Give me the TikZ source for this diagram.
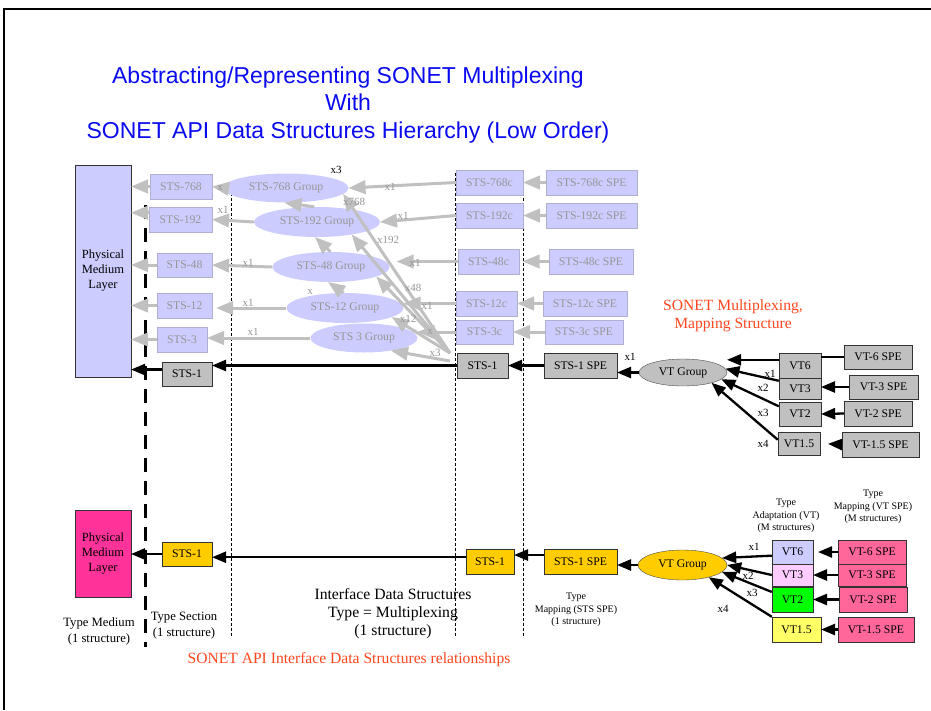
\documentclass[tikz,border=0pt]{standalone}
\usepackage{fontspec}
\setmainfont{Liberation Serif}
\newfontfamily\headfont{Liberation Sans}
\usetikzlibrary{arrows}
\usetikzlibrary{shapes.geometric}
\definecolor{lav}{RGB}{204,204,255}
\definecolor{lavline}{RGB}{175,175,210}
\definecolor{fade}{RGB}{150,150,150}
\definecolor{ghost}{RGB}{192,192,192}
\definecolor{silver}{RGB}{192,192,192}
\definecolor{heading}{RGB}{10,10,240}
\definecolor{note}{RGB}{255,70,30}
\definecolor{gold}{RGB}{255,204,0}
\definecolor{hotpink}{RGB}{255,51,153}
\definecolor{spepink}{RGB}{255,102,153}
\definecolor{vtpink}{RGB}{255,204,255}
\definecolor{vtgreen}{RGB}{0,255,0}
\definecolor{vtyellow}{RGB}{255,255,102}

\begin{document}
\begin{tikzpicture}[x=1pt, y=-1pt,
  stsbox/.style={shape=rectangle, draw=black!80, inner sep=1pt, minimum height=25pt, font=\fontsize{11.7}{14}\selectfont},
  faded/.style={stsbox, draw=lavline, fill=lav, text=fade},
  solidbox/.style={stsbox, fill=silver},
  grp/.style={shape=ellipse, fill=lav, text=fade, inner sep=0pt, minimum height=30pt, font=\fontsize{11.7}{14}\selectfont},
  ghostarrow/.style={->, >=triangle 45, line width=3pt, ghost},
  solidarrow/.style={->, >=triangle 45, line width=2.3pt, black},
  mult/.style={font=\fontsize{11}{13}\selectfont, inner sep=0pt},
  fademult/.style={mult, text=fade},
  remark/.style={align=center, inner sep=0pt, font=\fontsize{12.7}{16}\selectfont},
  small/.style={align=center, inner sep=0pt, font=\fontsize{10}{12.5}\selectfont},
  divider/.style={line width=0.8pt, dash pattern=on 3pt off 2pt}]
  \useasboundingbox (0,0) rectangle (931,710);
  \draw [line width=2pt] (4,710) -- (4,9) -- (931,9);

  \node (title) at (348,105) [align=center, text=heading, font=\headfont\fontsize{23}{27.5}\selectfont] {Abstracting/Representing SONET Multiplexing\\With\\SONET API Data Structures Hierarchy (Low Order)};

  \draw [line width=3pt, dash pattern=on 14pt off 9pt] (145,205) -- (145,647);
  \draw [divider] (231,193) -- (231,637);
  \draw [divider] (455,173) -- (455,637);
  \draw [divider] (523,173) -- (523,637);

  \node (phys) at (103,271) [stsbox, fill=lav, minimum width=56pt, minimum height=212pt, align=center, font=\fontsize{12.5}{15}\selectfont] {Physical\\Medium\\Layer};
  \node (sts768) at (181,186.5) [faded, minimum width=62pt] {STS-768};
  \node (sts192) at (180.5,219.5) [faded, minimum width=63pt] {STS-192};
  \node (sts48) at (184.5,265) [faded, minimum width=55pt, minimum height=24pt] {STS-48};
  \node (sts12) at (184.5,305.5) [faded, minimum width=55pt] {STS-12};
  \node (sts3) at (182,339.5) [faded, minimum width=50pt] {STS-3};
  \node (stsone) at (187,374) [solidbox, minimum width=50pt, minimum height=24pt] {STS-1};

  \node (g768) at (286,188) [grp, minimum width=125pt, minimum height=29pt] {STS-768 Group};
  \node (g192) at (317,222) [grp, minimum width=126pt] {STS-192 Group};
  \node (g48) at (331,267) [grp, minimum width=117pt] {STS-48 Group};
  \node (g12) at (345,308) [grp, minimum width=117pt] {STS-12 Group};
  \node (g3) at (364,338) [grp, minimum width=107pt, minimum height=29pt] {STS 3 Group};

  \node (c768) at (489.5,182.5) [faded, minimum width=67pt] {STS-768c};
  \node (c192) at (489.5,215.5) [faded, minimum width=67pt] {STS-192c};
  \node (c48) at (488.5,261.5) [faded, minimum width=61pt] {STS-48c};
  \node (c12) at (486.5,303.5) [faded, minimum width=61pt] {STS-12c};
  \node (c3) at (484.5,332) [faded, minimum width=57pt, minimum height=24pt] {STS-3c};
  \node (conec) at (482.5,365.5) [solidbox, minimum width=51pt] {STS-1};

  \node (s768) at (591.5,182.5) [faded, minimum width=91pt] {STS-768c SPE};
  \node (s192) at (591.5,215.5) [faded, minimum width=91pt] {STS-192c SPE};
  \node (s48) at (591,261.5) [faded, minimum width=84pt] {STS-48c SPE};
  \node (s12) at (585,303.5) [faded, minimum width=84pt] {STS-12c SPE};
  \node (s3) at (584,332) [faded, minimum width=78pt, minimum height=24pt] {STS-3c SPE};
  \node (sone) at (580.5,365.5) [solidbox, minimum width=73pt] {STS-1 SPE};

  \node (vtg) at (683,372.5) [grp, fill=silver, text=black, draw=black!70, minimum width=88pt, minimum height=27pt] {VT Group};
  \node (vtsix) at (800,365.5) [solidbox, minimum width=42pt] {VT6};
  \node (vtthree) at (800,388.5) [solidbox, minimum width=42pt, minimum height=21pt] {VT3};
  \node (vttwo) at (800,414) [solidbox, minimum width=42pt, minimum height=24pt] {VT2};
  \node (vtonefive) at (799,443.5) [solidbox, minimum width=42pt, minimum height=23pt] {VT1.5};
  \node (vsix) at (878,357) [solidbox, minimum width=68pt, minimum height=24pt] {VT-6 SPE};
  \node (vthree) at (883.5,387) [solidbox, minimum width=69pt, minimum height=24pt] {VT-3 SPE};
  \node (vtwo) at (878,413.5) [solidbox, minimum width=68pt] {VT-2 SPE};
  \node (vonefive) at (880.5,444.5) [solidbox, minimum width=77pt] {VT-1.5 SPE};

  \draw [ghostarrow] (sts768.west) -- (sts768.west -| phys.east);
  \draw [ghostarrow] (sts192.168) -- (sts192.168 -| phys.east);
  \draw [ghostarrow] (sts48.west) -- (sts48.west -| phys.east);
  \draw [ghostarrow] (sts12.west) -- (sts12.west -| phys.east);
  \draw [ghostarrow] (sts3.west) -- (sts3.west -| phys.east);
  \draw [solidarrow] (stsone.170) -- (stsone.170 -| phys.east);

  \draw [ghostarrow] (g768.west) -- (sts768.east);
  \draw [ghostarrow] (g192.west) -- (sts192.east);
  \draw [ghostarrow] (g48.west) -- (sts48.east);
  \draw [ghostarrow] (g12.west) -- ++(-70,0);
  \draw [ghostarrow] (g3.west) -- (g3.west -| sts3.east);

  \draw [ghostarrow] (c768.west) -- (g768.east);
  \draw [ghostarrow] (c192.west) -- (g192.east);
  \draw [ghostarrow] (c48.west) -- ++(-61,0);
  \draw [ghostarrow] (c12.west) -- (c12.west -| g12.east);
  \draw [ghostarrow] (c3.west) -- (c3.west -| g3.east);

  \draw [ghostarrow] (s768.west) -- (c768.east);
  \draw [ghostarrow] (s192.west) -- (c192.east);
  \draw [ghostarrow] (s48.west) -- ++(-26,0);
  \draw [ghostarrow] (s12.west) -- (c12.east);
  \draw [ghostarrow] (s3.west) -- (c3.east);

  \draw [ghostarrow] (g192.100) -- (g768.-95);
  \draw [ghostarrow] (g48.92) -- (g192.-97);
  \draw [ghostarrow] (g12.95) -- (g48.-100);

  \coordinate (fan) at (450,353);
  \coordinate (fanlow) at (450,361);
  \draw [ghostarrow] (fan) -- (g768.-6);
  \draw [ghostarrow] (fan) -- (g192.-20);
  \draw [ghostarrow] (fan) -- (g48.-12);
  \draw [ghostarrow] (fan) -- (g12.-11);
  \draw [ghostarrow] (fanlow) -- (g3.-25);

  \draw [solidarrow] (conec.west) -- (conec.west -| stsone.east);
  \draw [solidarrow] (sone.west) -- (conec.east);
  \draw [solidarrow] (vtg.west) -- (vtg.west -| sone.east);
  \draw [solidarrow] (vtsix.165) -- (vtsix.165 -| vtg.east);
  \draw [line width=2.3pt] (vsix.west) -- (vsix.west -| vtsix.east);
  \draw [solidarrow] (vtthree.160) -- (vtg.5);
  \draw [solidarrow] (vttwo.160) -- (vtg.-10);
  \draw [solidarrow] (vtonefive.170) -- (vtg.-20);
  \draw [solidarrow] (vthree.west) -- (vthree.west -| vtthree.east);
  \draw [solidarrow] (vtwo.west) -- (vttwo.east);
  \draw [solidarrow, shorten >=8pt] (vonefive.west) -- (vtonefive.east);

  \node (m768l) at (220,188) [fademult] {x};
  \node (m192l) at (223,210) [fademult] {x1};
  \node (m48l) at (248,263) [fademult] {x1};
  \node (m12l) at (248,303) [fademult] {x1};
  \node (m3l) at (253,332) [fademult] {x1};
  \node (m768r) at (390,187) [fademult] {x1};
  \node (m192r) at (403,216) [fademult] {x1};
  \node (m48r) at (415,263) [fademult] {x1};
  \node (m12r) at (427,306) [fademult] {x1};
  \node (m3r) at (430,332) [fademult] {x};
  \node (m12up) at (310,292) [fademult] {x};
  \node (f768) at (354,202) [fademult] {x768};
  \node (f192) at (388,240) [fademult] {x192};
  \node (f48) at (413,288) [fademult] {x48};
  \node (f12) at (408,319) [fademult] {x12};
  \node (f3) at (435,353) [fademult] {x3};
  \node (top3) at (336,170) [mult] {x3};
  \node (mspe) at (630,357) [mult] {x1};
  \node (mvta) at (770,374) [mult] {x1};
  \node (mvtb) at (763,388) [mult] {x2};
  \node (mvtc) at (763,413) [mult] {x3};
  \node (mvtd) at (763,444) [mult] {x4};

  \node (muxnote) at (733,316) [align=center, text=note, inner sep=0pt, font=\fontsize{15.6}{18}\selectfont] {SONET Multiplexing,\\Mapping Structure};

  \node (bphys) at (103,553.5) [stsbox, fill=hotpink, minimum width=56pt, minimum height=87pt, align=center, font=\fontsize{12.5}{15}\selectfont] {Physical\\Medium\\Layer};
  \node (bsts) at (187,554) [stsbox, fill=gold, minimum width=50pt, minimum height=24pt] {STS-1};
  \node (bconec) at (490,561.5) [stsbox, fill=gold, minimum width=48pt] {STS-1};
  \node (bsone) at (580.5,561.5) [stsbox, fill=gold, minimum width=73pt] {STS-1 SPE};
  \node (bvtg) at (682.5,565) [grp, fill=gold, text=black, draw=black!70, minimum width=89pt] {VT Group};
  \node (bvtsix) at (792.5,552) [stsbox, fill=lav, minimum width=41pt, minimum height=24pt] {VT6};
  \node (bvtthree) at (792.5,575) [stsbox, fill=vtpink, minimum width=41pt, minimum height=22pt] {VT3};
  \node (bvttwo) at (792.5,599.5) [stsbox, fill=vtgreen, minimum width=41pt] {VT2};
  \node (bvtonefive) at (796.5,629.5) [stsbox, fill=vtyellow, minimum width=49pt] {VT1.5};
  \node (bvsix) at (872,552) [stsbox, fill=spepink, minimum width=68pt, minimum height=24pt] {VT-6 SPE};
  \node (bvthree) at (872,575) [stsbox, fill=spepink, minimum width=68pt, minimum height=22pt] {VT-3 SPE};
  \node (bvtwo) at (873,599.5) [stsbox, fill=spepink, minimum width=68pt] {VT-2 SPE};
  \node (bvonefive) at (876,629.5) [stsbox, fill=spepink, minimum width=76pt] {VT-1.5 SPE};

  \draw [solidarrow] (bsts.west) -- (bsts.west -| bphys.east);
  \draw [solidarrow] (bconec.170) -- (bconec.170 -| bsts.east);
  \draw [solidarrow] (bsone.170) -- (bsone.170 -| bconec.east);
  \draw [solidarrow] (bvtg.west) -- (bvtg.west -| bsone.east);
  \draw [solidarrow] (bvtsix.190) -- (bvtg.10);
  \draw [solidarrow] (bvtthree.west) -- (bvtg.east);
  \draw [solidarrow] (bvttwo.160) -- (bvtg.-10);
  \draw [solidarrow] (bvtonefive.north west) -- (bvtg.-25);
  \draw [solidarrow, shorten >=5pt] (bvsix.west) -- (bvtsix.east);
  \draw [solidarrow] (bvthree.west) -- (bvtthree.east);
  \draw [solidarrow] (bvtwo.west) -- (bvttwo.east);
  \draw [solidarrow] (bvonefive.west) -- (bvtonefive.east);

  \node (bx1) at (754,547) [mult] {x1};
  \node (bx2) at (748,576) [mult] {x2};
  \node (bx3) at (752,593) [mult] {x3};
  \node (bx4) at (723,609) [mult] {x4};

  \node (vtadapt) at (786,516) [small] {Type\\Adaptation (VT)\\(M structures)};
  \node (vtmap) at (873,507) [small] {Type\\Mapping (VT SPE)\\(M structures)};
  \node (stsmap) at (576,610) [small] {Type\\Mapping (STS SPE)\\(1 structure)};
  \node (medium) at (99,631) [remark] {Type Medium\\(1 structure)};
  \node (section) at (184,626) [remark] {Type Section\\(1 structure)};
  \node (iface) at (393,614) [remark, font=\fontsize{15.7}{18}\selectfont] {Interface Data Structures\\Type = Multiplexing\\(1 structure)};
  \node (relations) at (349,660) [text=note, inner sep=0pt, font=\fontsize{15.6}{18}\selectfont] {SONET API Interface Data Structures relationships};
\end{tikzpicture}
\end{document}
